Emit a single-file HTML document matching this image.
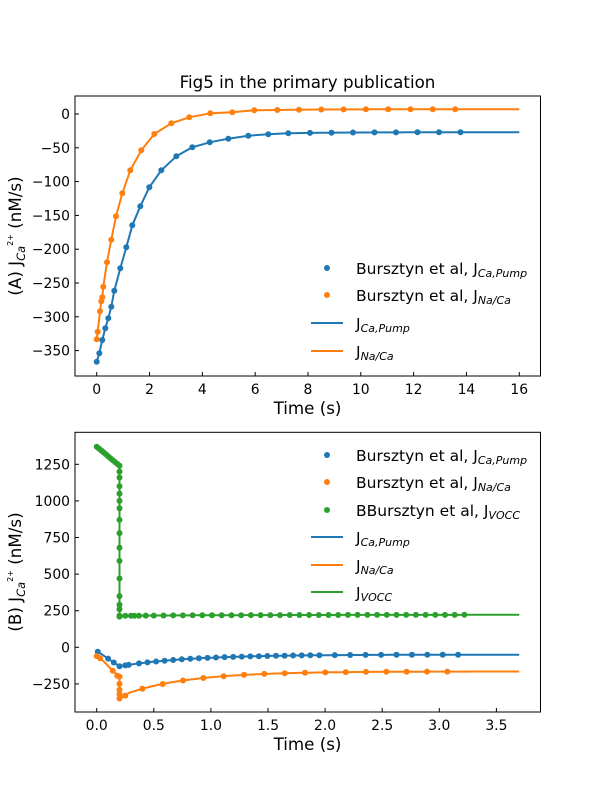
<!DOCTYPE html>
<html><head><meta charset="utf-8"><style>
body{margin:0;background:#fff;}
svg{display:block;font-family:"DejaVu Sans","Liberation Sans",sans-serif;}
</style></head><body>
<svg id="s" width="600" height="800" xmlns="http://www.w3.org/2000/svg"></svg>
<script>
const S=document.getElementById('s');let h='';
const B='#1f77b4',O='#ff7f0e',G='#2ca02c';
function poly(pts,c){h+=`<polyline points="${pts.map(p=>p[0].toFixed(1)+','+p[1].toFixed(1)).join(' ')}" fill="none" stroke="${c}" stroke-width="2" stroke-linejoin="round"/>`;}
function dots(pts,c){pts.forEach(p=>h+=`<circle cx="${p[0].toFixed(1)}" cy="${p[1].toFixed(1)}" r="3" fill="${c}"/>`);}
function txt(x,y,s,sz,anc,extra){h+=`<text x="${x}" y="${y}" font-size="${sz}" text-anchor="${anc||'middle'}" ${extra||''}>${s}</text>`;}
// ---------- TOP ----------
const tx=t=>96.7+t*26.41;
function TY(v){return 114-v*0.676;}
const pumpPx=[[96.7,361.7],[99.3,353.3],[102.3,340],[105.3,328.3],[108.3,318.3],[111.3,306.7],[114.3,290.7],[120.3,268.3],[126.3,247.3],[132.3,225.3],[140.3,206.3],[149.3,187.3],[161.3,170.3],[176.3,156.3],[192.3,147.3],[209.7,142.3],[228.3,138.7],[248.3,135.7],[268.3,134.3],[288.3,133.3]];
const pt=x=>TY(-27-1.5*Math.exp(-(x-288.3)/50));
let pumpLine=pumpPx.slice();for(let x=296;x<=519.3;x+=8)pumpLine.push([x,pt(x)]);pumpLine.push([519.3,TY(-27)]);
let pumpDots=pumpPx.slice();for(let x=310;x<=475;x+=21.5)pumpDots.push([x,pt(x)]);
const naPx=[[96.7,339.3],[97.7,331.7],[100,311.3],[101.3,301.3],[102.3,297.3],[103.3,286.7],[107,262.3],[111.3,239.7],[116,216.3],[122.3,193.3],[130.3,170.3],[141.3,150.3],[154.3,134],[171.3,123.3],[189.3,117.3],[210.3,113.3],[232.3,112.3],[254.3,110.3],[277.3,110]];
const nt=x=>TY(7-1.1*Math.exp(-(x-277.3)/40));
let naLine=naPx.slice();for(let x=285;x<=519.3;x+=8)naLine.push([x,nt(x)]);naLine.push([519.3,TY(7)]);
let naDots=naPx.slice();for(let x=299;x<=475;x+=22.3)naDots.push([x,nt(x)]);
poly(pumpLine,B);poly(naLine,O);dots(pumpDots,B);dots(naDots,O);
h+=`<rect x="75" y="96" width="465.5" height="280" fill="none" stroke="#000" stroke-width="1"/>`;
[0,2,4,6,8,10,12,14,16].forEach(t=>{let x=tx(t);h+=`<line x1="${x}" y1="376" x2="${x}" y2="372" stroke="#000"/>`;txt(x,394,t,13.9);});
[0,-50,-100,-150,-200,-250,-300,-350].forEach(v=>{let y=TY(v);h+=`<line x1="75" y1="${y}" x2="79" y2="${y}" stroke="#000"/>`;txt(70,y+5,v==0?'0':'−'+(-v),13.9,'end');});
txt(307.5,88,'Fig5 in the primary publication',16.7);
txt(307.5,414,'Time (s)',16.7);
h+=`<text transform="translate(21,236) rotate(-90)" font-size="16.7" text-anchor="middle">(A) J<tspan font-size="11.5" dy="4" font-style="italic">Ca</tspan><tspan font-size="8" dy="-12">2+</tspan><tspan dy="8"> (nM/s)</tspan></text>`;
function leg(y,c,type,main,sub){ if(type=='d')h+=`<circle cx="327" cy="${y}" r="3" fill="${c}"/>`;else h+=`<line x1="311" y1="${y}" x2="343" y2="${y}" stroke="${c}" stroke-width="2"/>`;
 h+=`<text x="356" y="${y+6}" font-size="15.5">${main}J<tspan font-size="11" dy="3" font-style="italic">${sub}</tspan></text>`;}
leg(268,B,'d','Bursztyn et al, ','Ca,Pump');leg(295,O,'d','Bursztyn et al, ','Na/Ca');leg(323,B,'l','','Ca,Pump');leg(351,O,'l','','Na/Ca');
// ---------- BOTTOM ----------
const bx=t=>96.7+t*114.2, by=v=>647.3-v*0.1464;
const gf=t=>t<0.2?1370-650*t:215+7*(1-Math.exp(-(t-0.2)/1));
const bf=t=>t<=0.2?-25-525*t:-50-80*Math.exp(-(t-0.2)/0.6);
const of=t=>t<=0.2?-60-700*t:-165-170*Math.exp(-(t-0.2)/0.55);
let gL=[],bL=[],oL=[];
for(let t=0.01;t<0.2;t+=0.01){gL.push([bx(t),by(gf(t))]);bL.push([bx(t),by(bf(t))]);}
gL.push([bx(0.2),by(1240)]);gL.push([bx(0.2),by(210)]);
bL.push([bx(0.2),by(-130)]);
oL.push([bx(0),by(-60)]);oL.push([bx(0.04),by(-80)]);oL.push([bx(0.14),by(-160)]);oL.push([bx(0.2),by(-200)]);oL.push([bx(0.2),by(-350)]);oL.push([bx(0.25),by(-330)]);
for(let t=0.22;t<=3.7;t+=0.03){gL.push([bx(t),by(gf(t))]);bL.push([bx(t),by(bf(t))]);}
for(let t=0.28;t<=3.7;t+=0.03)oL.push([bx(t),by(of(t))]);
poly(gL,G);poly(bL,B);poly(oL,O);
let gD=[],bD=[],oD=[];
[0,0.02,0.04,0.06,0.08,0.1,0.12,0.14,0.16,0.18,0.2].forEach(t=>gD.push([bx(t),by(t==0?1370:gf(t))]));
[1240,1200,1160,1100,1050,1000,950,870,780,680,590,470,350,290,260,210].forEach(v=>gD.push([bx(0.2),by(v)]));
[0.25,0.3,0.33,0.37,0.43].forEach(t=>gD.push([bx(t),by(gf(t))]));
for(let t=0.5;t<=3.22;t+=0.085)gD.push([bx(t),by(gf(t))]);
[0.01,0.1,0.15,0.2,0.25,0.28].forEach(t=>bD.push([bx(t),by(bf(t))]));
for(let t=0.37;t<=1.9;t+=0.075)bD.push([bx(t),by(bf(t))]);
for(let t=1.95;t<=3.22;t+=0.135)bD.push([bx(t),by(bf(t))]);
[[0,-60],[0.03,-75],[0.14,-160],[0.18,-195],[0.2,-200],[0.2,-250],[0.2,-290],[0.2,-320],[0.2,-350],[0.25,-330]].forEach(p=>oD.push([bx(p[0]),by(p[1])]));
for(let t=0.4;t<=3.22;t+=0.178)oD.push([bx(t),by(of(t))]);
dots(gD,G);dots(bD,B);dots(oD,O);
h+=`<rect x="75" y="432.3" width="465.5" height="279.7" fill="none" stroke="#000" stroke-width="1"/>`;
[0,0.5,1,1.5,2,2.5,3,3.5].forEach(t=>{let x=bx(t);h+=`<line x1="${x}" y1="712" x2="${x}" y2="708" stroke="#000"/>`;txt(x,730,t.toFixed(1),13.9);});
[1250,1000,750,500,250,0,-250].forEach(v=>{let y=by(v);h+=`<line x1="75" y1="${y}" x2="79" y2="${y}" stroke="#000"/>`;txt(70,y+5,v<0?'−'+(-v):v,13.9,'end');});
txt(307.5,750,'Time (s)',16.7);
h+=`<text transform="translate(21,572) rotate(-90)" font-size="16.7" text-anchor="middle">(B) J<tspan font-size="11.5" dy="4" font-style="italic">Ca</tspan><tspan font-size="8" dy="-12">2+</tspan><tspan dy="8"> (nM/s)</tspan></text>`;
leg(455,B,'d','Bursztyn et al, ','Ca,Pump');leg(482,O,'d','Bursztyn et al, ','Na/Ca');leg(510,G,'d','BBursztyn et al, ','VOCC');
leg(537,B,'l','','Ca,Pump');leg(565,O,'l','','Na/Ca');leg(592,G,'l','','VOCC');
S.innerHTML=h;
</script>
</body></html>
